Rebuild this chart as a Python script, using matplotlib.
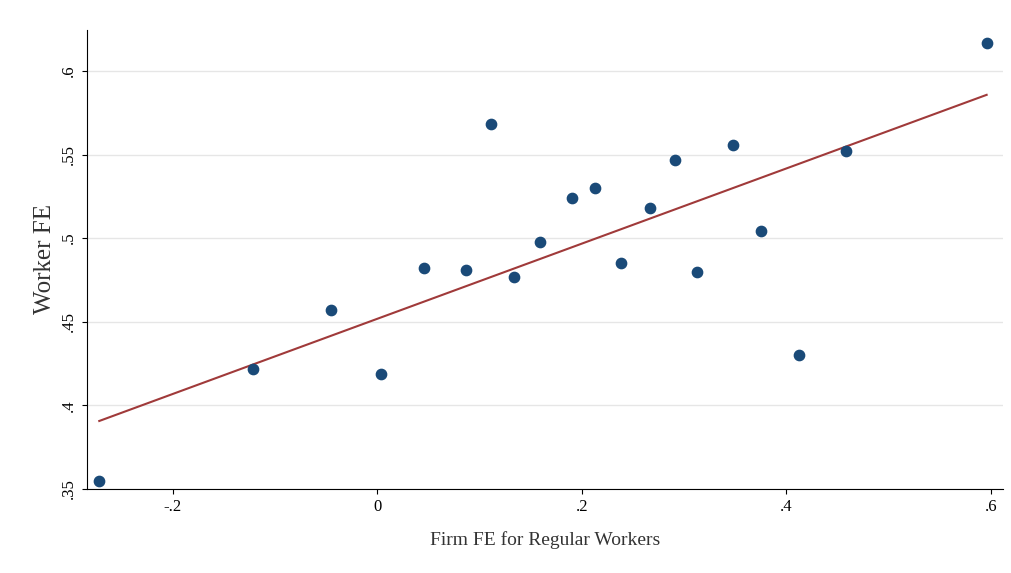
import matplotlib.pyplot as plt
import numpy as np

plt.rcParams['font.family'] = ['Liberation Serif', 'DejaVu Serif']

firm_fe = [-0.272, -0.122, -0.045, 0.004, 0.046, 0.087, 0.111, 0.134, 0.159, 0.190,
           0.213, 0.238, 0.267, 0.291, 0.313, 0.348, 0.375, 0.412, 0.458, 0.596]
worker_fe = [0.355, 0.422, 0.457, 0.419, 0.482, 0.481, 0.568, 0.477, 0.498, 0.524,
             0.530, 0.485, 0.518, 0.547, 0.480, 0.556, 0.504, 0.430, 0.552, 0.617]
# fitted line as shown in the chart (from underlying micro data)
fit_intercept = 0.4518
fit_slope = 0.2247
xticks = [-0.2, 0, 0.2, 0.4, 0.6]
xlabels = ['-.2', '0', '.2', '.4', '.6']
yticks = [0.35, 0.4, 0.45, 0.5, 0.55, 0.6]
ylabels = ['.35', '.4', '.45', '.5', '.55', '.6']

fig = plt.figure(figsize=(10.11, 5.73), dpi=100)
ax = fig.add_axes([87/1011, 84/573, 916/1011, 459/573])

x = np.array(firm_fe)
xl = np.array([x.min(), x.max()])
ax.plot(xl, fit_intercept + fit_slope * xl, color='#a03a3a', lw=1.5, zorder=2)
ax.scatter(firm_fe, worker_fe, s=55, color='#1a4a78', zorder=3)

ax.set_xlim(-0.284, 0.612)
ax.set_ylim(0.35, 0.6245)
ax.set_xticks(xticks)
ax.set_xticklabels(xlabels, fontsize=12)
ax.set_yticks(yticks)
ax.set_yticklabels(ylabels, fontsize=12, rotation=90, va='center')
ax.yaxis.grid(True, color='#e6e6e6', lw=1)
ax.set_axisbelow(True)
for s in ['top', 'right']:
    ax.spines[s].set_visible(False)
ax.set_xlabel('Firm FE for Regular Workers', fontsize=14, color='#333333', labelpad=12)
ax.set_ylabel('Worker FE', fontsize=18, color='#333333')

fig.savefig('out.png', dpi=100)
